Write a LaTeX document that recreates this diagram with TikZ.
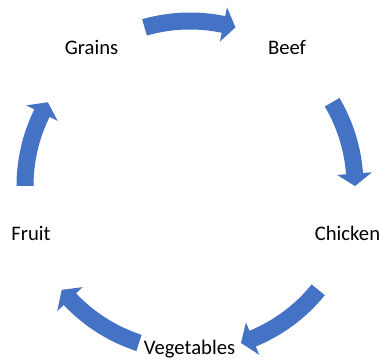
\documentclass[tikz,border=0pt]{standalone}
\usepackage{fontspec}
\setmainfont{Carlito}
\definecolor{sablue}{HTML}{4472C4}
\tikzset{
  lbl/.style={font=\fontsize{15.5pt}{18pt}\selectfont, inner sep=0pt, anchor=base, text=black},
  arrowfill/.style={fill=sablue, draw=none}
}
% #1 tail angle, #2 tip angle (clockwise: #1 > #2)
\newcommand\cyclearrow[2]{%
  \pgfmathsetmacro\hb{#2+4.3}%
  \fill[arrowfill] (#1:173.5) arc[start angle=#1, end angle=\hb, radius=173.5]
    -- (\hb:182.5) -- (#2:165) -- (\hb:147.5) -- (\hb:156.5)
    arc[start angle=\hb, end angle=#1, radius=156.5] -- cycle;}
\begin{document}
\begin{tikzpicture}[x=0.75pt,y=0.75pt]
\useasboundingbox (0,0) rectangle (380,360);
\coordinate (C) at (190,174);
\begin{scope}[shift={(C)}]
  \cyclearrow{106}{74}
  \cyclearrow{30.5}{0}
  \cyclearrow{-39}{-72}
  \cyclearrow{-108}{-141}
  \cyclearrow{180}{149.5}
\end{scope}
\node[lbl] (grains) at (91.5,305) {Grains};
\node[lbl] (beef) at (287,305) {Beef};
\node[lbl] (chicken) at (347.5,119) {Chicken};
\node[lbl] (fruit) at (31,119) {Fruit};
\node[lbl] (veg) at (189.5,5) {Vegetables};
\end{tikzpicture}
\end{document}
